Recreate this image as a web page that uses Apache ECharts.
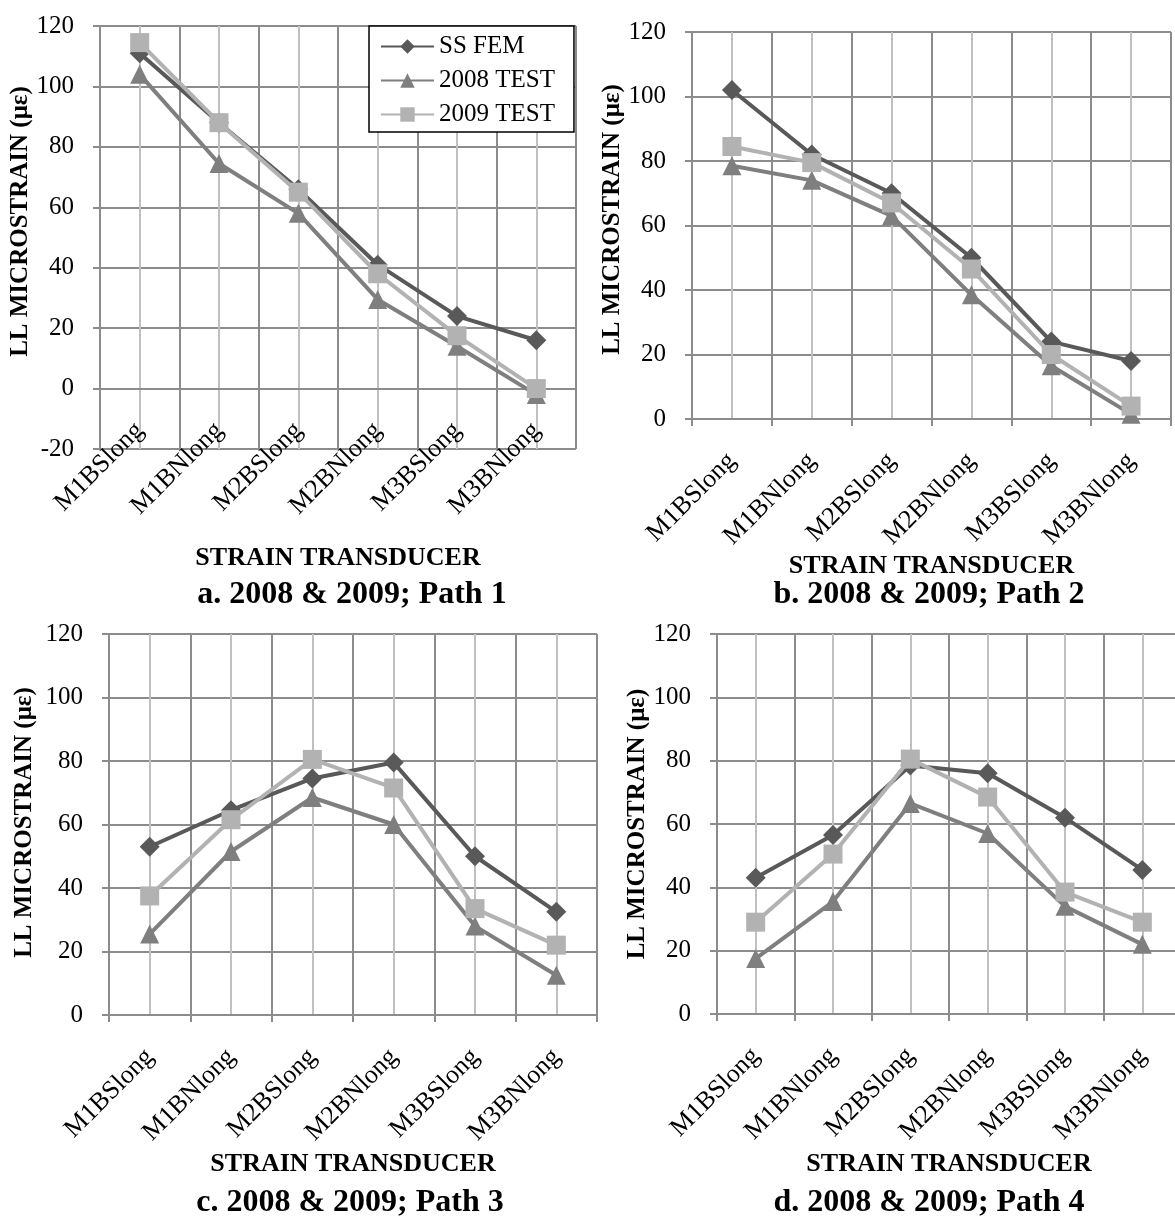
<!DOCTYPE html>
<html><head><meta charset="utf-8">
<script src="https://cdn.jsdelivr.net/npm/echarts@6/dist/echarts.min.js"></script>
<style>html,body{margin:0;padding:0;background:#fff}#c{width:1175px;height:1221px}</style>
</head><body><div id="c"></div><script>
// ---- data ----
const categories = ['M1BSlong', 'M1BNlong', 'M2BSlong', 'M2BNlong', 'M3BSlong', 'M3BNlong'];
const seriesNames = ['SS FEM', '2008 TEST', '2009 TEST'];

const ssFemPath1   = [111, 88, 66, 41, 24, 16];
const test2008Path1 = [104, 74.5, 58, 29.5, 14, -2];
const test2009Path1 = [114.5, 88, 65, 38, 17.5, 0];

const ssFemPath2   = [102, 82, 70, 50, 24, 18];
const test2008Path2 = [78.5, 74, 63, 38.5, 16.5, 1.5];
const test2009Path2 = [84.5, 79.5, 67, 46.5, 20, 4];

const ssFemPath3   = [53, 64.5, 74.5, 79.5, 50, 32.5];
const test2008Path3 = [25.5, 51.5, 68.5, 60, 28, 12.5];
const test2009Path3 = [37.5, 61.5, 80.5, 71.5, 33.5, 22];

const ssFemPath4   = [43, 56.5, 78.5, 76, 62, 45.5];
const test2008Path4 = [17.5, 35.5, 66.5, 57, 34, 22];
const test2009Path4 = [29, 50.5, 80.5, 68.5, 38.5, 29];

const captions = ['a. 2008 & 2009; Path 1', 'b. 2008 & 2009; Path 2', 'c. 2008 & 2009; Path 3', 'd. 2008 & 2009; Path 4'];
const xAxisTitle = 'STRAIN TRANSDUCER';
const yAxisTitle = 'LL MICROSTRAIN (\u03bc\u03b5)';
const yMins = [-20, 0, 0, 0];
const yMax = 120;
const yStep = 20;

// ---- layout / style ----
const FONT = '"Liberation Serif", "Times New Roman", serif';
const GRID_DARK = '#8c8c8c';
const GRID_LIGHT = '#c0c0c0';
const seriesColors = ['#595959', '#7f7f7f', '#b2b2b2'];
const seriesSymbols = ['diamond', 'triangle', 'rect'];
const seriesSymbolSizes = [20, 19, 19];

const panels = [
  { grid: { left: 100, top: 26, width: 476, height: 423 }, data: [ssFemPath1, test2008Path1, test2009Path1], yGap: 64, yShift: 32, xGap: 157, cap: [352, 579] },
  { grid: { left: 692, top: 32, width: 479, height: 387 }, data: [ssFemPath2, test2008Path2, test2009Path2], yGap: 66, yShift: 12, xGap: 126, cap: [929, 579] },
  { grid: { left: 109, top: 634, width: 488, height: 381 }, data: [ssFemPath3, test2008Path3, test2009Path3], yGap: 72, yShift: 4, xGap: 136, cap: [350, 1187] },
  { grid: { left: 717, top: 634, width: 464, height: 380 }, data: [ssFemPath4, test2008Path4, test2009Path4], yGap: 67, yShift: 0, xGap: 137, cap: [929, 1187] }
];

const grids = [], xAxes = [], yAxes = [], series = [], titles = [];
panels.forEach((p, i) => {
  grids.push(Object.assign({ containLabel: false, outerBoundsMode: 'none' }, p.grid));
  // the category axis sits on the zero line (Excel style); move it up when the scale goes negative
  const zeroOffset = -p.grid.height * (0 - yMins[i]) / (yMax - yMins[i]);
  xAxes.push({
    type: 'category', gridIndex: i, data: categories, boundaryGap: true, offset: zeroOffset,
    axisLine: { show: true, onZero: false, lineStyle: { color: GRID_DARK, width: 2 } },
    axisTick: { show: true, length: 7, interval: 0, lineStyle: { color: GRID_DARK, width: 2 } },
    axisLabel: { interval: 0, rotate: 45, margin: 38, fontFamily: FONT, fontSize: 26, color: '#000' },
    splitLine: { show: false },
    name: xAxisTitle, nameLocation: 'middle', nameGap: p.xGap,
    nameTextStyle: { fontFamily: FONT, fontSize: 26, fontWeight: 'bold', color: '#000' }
  });
  // hidden helper axis: vertical gridlines at category boundaries (dark) and centres (light)
  xAxes.push({
    type: 'value', gridIndex: i, min: 0, max: categories.length * 2, interval: 1, position: 'top',
    axisLine: { show: false }, axisTick: { show: false }, axisLabel: { show: false },
    splitLine: { show: true, lineStyle: { color: [GRID_DARK, GRID_LIGHT], width: 2 } }
  });
  yAxes.push({
    type: 'value', gridIndex: i, min: yMins[i], max: yMax, interval: yStep,
    axisLine: { show: true, onZero: false, lineStyle: { color: GRID_DARK, width: 2 } },
    axisTick: { show: true, length: 7, lineStyle: { color: GRID_DARK, width: 2 } },
    axisLabel: { margin: 26, fontFamily: FONT, fontSize: 25, color: '#000' },
    splitLine: { show: true, lineStyle: { color: GRID_DARK, width: 2 } },
    name: yAxisTitle, nameLocation: 'middle', nameRotate: 90, nameGap: p.yGap,
    nameTextStyle: { fontFamily: FONT, fontSize: 25, fontWeight: 'bold', color: '#000', padding: [0, 0, 0, p.yShift] }
  });
  p.data.forEach((vals, k) => {
    series.push({
      type: 'line', name: seriesNames[k], xAxisIndex: i * 2, yAxisIndex: i, data: vals,
      symbol: seriesSymbols[k], symbolSize: seriesSymbolSizes[k], showSymbol: true,
      color: seriesColors[k],
      lineStyle: { color: seriesColors[k], width: 4 },
      itemStyle: { color: seriesColors[k] },
      z: 3 + k, animation: false
    });
  });
  titles.push({
    text: captions[i], left: p.cap[0], top: p.cap[1], textAlign: 'center', padding: 0,
    textStyle: { fontFamily: FONT, fontSize: 32, fontWeight: 'bold', color: '#000' }
  });
});

const chart = echarts.init(document.getElementById('c'), null, { renderer: 'canvas' });
chart.setOption({
  backgroundColor: '#fff',
  animation: false,
  title: titles,
  legend: {
    data: seriesNames, orient: 'vertical', left: 369, top: 26,
    padding: [8, 19, 5, 11], itemGap: 9, itemWidth: 53, itemHeight: 18,
    backgroundColor: '#fff', borderColor: '#000', borderWidth: 1.5,
    textStyle: { fontFamily: FONT, fontSize: 25, color: '#000' },
    selectedMode: false
  },
  grid: grids, xAxis: xAxes, yAxis: yAxes, series: series
});
</script></body></html>
